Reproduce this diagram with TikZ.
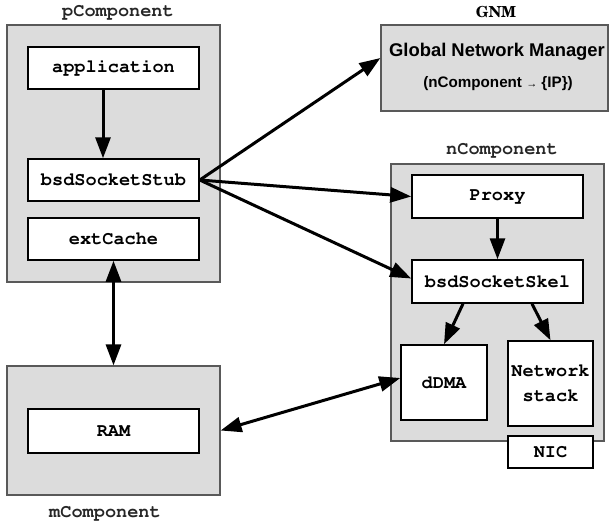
\documentclass[tikz,border=0pt]{standalone}
\usepackage{fontspec}
\usepackage[T1,TU]{fontenc}
\usetikzlibrary{arrows.meta}
\newfontfamily\sansf{Liberation Sans}
\newcommand\courb{\fontencoding{T1}\fontfamily{pcr}\fontseries{b}\selectfont}
\newcommand\schoolb{\fontencoding{T1}\fontfamily{pnc}\fontseries{b}\selectfont}
\definecolor{panel}{HTML}{DCDCDC}
\tikzset{
  panelbox/.style={draw=black!65, line width=0.6pt, fill=panel, inner sep=0pt},
  wbox/.style={draw=black, line width=0.75pt, fill=white, inner sep=0pt, align=center,
     font=\courb\fontsize{9.3}{12.5}\selectfont},
  ttl/.style={font=\courb\fontsize{9.3}{11}\selectfont, text=black!85, inner sep=0pt},
  arr/.style={line width=1.5pt, -{Triangle[length=10.5pt,width=7.5pt]}},
  darr/.style={line width=1.5pt, {Triangle[length=10.5pt,width=7.5pt]}-{Triangle[length=10.5pt,width=7.5pt]}}
}
\begin{document}
\begin{tikzpicture}[x=0.5pt,y=-0.5pt]
\useasboundingbox (0,0) rectangle (609,527);
% panels
\node[panelbox, minimum width=106.5pt, minimum height=128.5pt] (pcomp) at (113.5,153.5) {};
\node[panelbox, minimum width=113.5pt, minimum height=43pt, align=center] (gnm) at (494.5,68) {};
\node[panelbox, minimum width=106.5pt, minimum height=138.5pt] (ncomp) at (497.5,302.5) {};
\node[panelbox, minimum width=106.5pt, minimum height=64.5pt] (mcomp) at (113.5,430.5) {};
% titles
\node[ttl] (tp) at (118,12) {pComponent};
\node[ttl] (tn) at (502,150) {nComponent};
\node[ttl] (tm) at (105,513) {mComponent};
\node[font=\schoolb\fontsize{7.6}{9}\selectfont, inner sep=0pt] (tg) at (496,12) {GNM};
% GNM text
\node[font=\sansf\bfseries\fontsize{9.2}{11}\selectfont, inner sep=0pt] (gnm1) at (497,52) {Global Network Manager};
\node[font=\sansf\bfseries\fontsize{7.6}{9}\selectfont, inner sep=0pt] (gnm2) at (498,84) {(nComponent {\fontsize{5.5}{6}\selectfont→} \{IP\})};
% inner boxes
\node[wbox, minimum width=85.5pt, minimum height=21pt] (app) at (113.5,68) {application};
\node[wbox, minimum width=85.5pt, minimum height=21pt] (stub) at (113.5,180) {bsdSocketStub};
\node[wbox, minimum width=85.5pt, minimum height=21pt] (ext) at (113.5,239) {extCache};
\node[wbox, minimum width=85.5pt, minimum height=21.5pt] (proxy) at (497.5,196.5) {Proxy};
\node[wbox, minimum width=85.5pt, minimum height=21.5pt] (skel) at (497.5,281.5) {bsdSocketSkel};
\node[wbox, minimum width=43pt, minimum height=37.5pt] (ddma) at (444,382.5) {dDMA};
\node[wbox, minimum width=42.5pt, minimum height=42.5pt] (net) at (550.5,383.5) {Network\\stack};
\node[wbox, minimum width=42.5pt, minimum height=16pt] (nic) at (550.5,452) {NIC};
\node[wbox, minimum width=85.5pt, minimum height=22pt] (ram) at (113.5,431) {RAM};
% arrows
\draw[arr] ([xshift=-5.25pt]app.south) -- ([xshift=-5.25pt]stub.north);
\draw[darr] (ext.south) -- (mcomp.north);
\draw[arr] (stub.east) -- ([yshift=5pt]gnm.west);
\draw[arr] (stub.east) -- (proxy.west);
\draw[arr] (stub.east) -- ([yshift=1.5pt]skel.west);
\draw[arr] (proxy.south) -- (skel.north);
\draw[arr] ([xshift=-17.25pt]skel.south) -- (ddma.north);
\draw[arr] ([xshift=17.25pt]skel.south) -- (net.north);
\draw[darr] ([yshift=2.25pt]ddma.west) -- (mcomp.east);
\end{tikzpicture}
\end{document}
